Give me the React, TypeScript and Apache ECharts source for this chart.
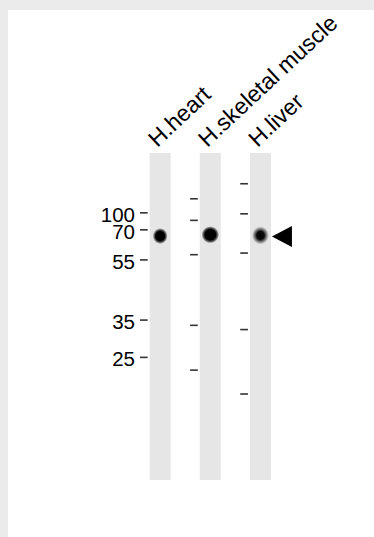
import React, { useEffect, useRef } from 'react';
import * as echarts from 'echarts';

// Lanes (samples) of the western blot
const lanes = ['H.heart', 'H.skeletal muscle', 'H.liver'];
// Molecular-weight marker labels (kDa), shown for lane 1 only
const markerLabels = ['100', '70', '55', '35', '25'];
// Marker migration (% of gel length from the top of the lane)
const lane1Markers = [18.3, 23.5, 32.7, 51.1, 62.5];
const lane2Markers = [14.0, 20.6, 31.1, 52.7, 66.4];
const lane3Markers = [9.4, 18.6, 30.6, 54.0, 73.7];
// Detected band migration per lane
const bandPositions = [25.4, 25.0, 25.2];
// Arrow pointing at the band
const arrowLane = 2;
const arrowPosition = 25.5;

const FONT = '"Liberation Sans", Arial, Helvetica, sans-serif';
const LANE_W = 21;

export default function App() {
  const ref = useRef<HTMLDivElement>(null);
  useEffect(() => {
    if (!ref.current) return;
    const chart = echarts.init(ref.current, null, { renderer: 'svg' });

    const markerRows: number[][] = [];
    [lane1Markers, lane2Markers, lane3Markers].forEach((arr, lane) => {
      arr.forEach((pos, k) => markerRows.push([lane, pos, k]));
    });

    const bandStyles = [
      { rx: 7.5, ry: 8, stops: [[0, 'rgba(0,0,0,1)'], [0.6, 'rgba(0,0,0,1)'], [0.8, 'rgba(0,0,0,0.55)'], [1, 'rgba(0,0,0,0)']] },
      { rx: 8.8, ry: 8.6, stops: [[0, 'rgba(0,0,0,1)'], [0.62, 'rgba(0,0,0,1)'], [0.82, 'rgba(0,0,0,0.55)'], [1, 'rgba(0,0,0,0)']] },
      { rx: 8.5, ry: 9, stops: [[0, 'rgba(0,0,0,1)'], [0.45, 'rgba(0,0,0,0.95)'], [0.72, 'rgba(0,0,0,0.45)'], [1, 'rgba(0,0,0,0)']] },
    ];

    chart.setOption({
      animation: false,
      backgroundColor: '#ebebeb',
      graphic: [
        {
          type: 'rect',
          z: -10,
          shape: { x: 8, y: 10, width: 366, height: 527 },
          style: { fill: '#ffffff' },
        },
      ],
      grid: { left: 135.1, width: 150.4, top: 153, height: 327 },
      xAxis: { type: 'category', data: lanes, show: false },
      yAxis: { type: 'value', min: 0, max: 100, inverse: true, show: false },
      series: [
        {
          type: 'custom',
          name: 'lanes',
          data: lanes.map((_, i) => [i]),
          renderItem: (params: any, api: any) => {
            const i = api.value(0);
            const top = api.coord([i, 0]);
            const bottom = api.coord([i, 100]);
            const left = top[0] - LANE_W / 2;
            return {
              type: 'group',
              children: [
                {
                  type: 'rect',
                  shape: { x: left, y: top[1], width: LANE_W, height: bottom[1] - top[1] },
                  style: { fill: '#e6e6e6' },
                },
                {
                  type: 'text',
                  x: left + 8.5,
                  y: top[1] - 4,
                  rotation: (43 * Math.PI) / 180,
                  style: {
                    text: lanes[i],
                    x: 0,
                    y: 0,
                    fill: '#000',
                    font: `23px ${FONT}`,
                    lineHeight: 19,
                    align: 'left',
                    verticalAlign: 'bottom',
                    textAlign: 'left',
                    textVerticalAlign: 'bottom',
                  },
                },
              ],
            };
          },
        },
        {
          type: 'custom',
          name: 'bands',
          data: bandPositions.map((p, i) => [i, p]),
          renderItem: (params: any, api: any) => {
            const i = api.value(0);
            const c = api.coord([i, api.value(1)]);
            const s = bandStyles[i];
            return {
              type: 'ellipse',
              shape: { cx: c[0], cy: c[1], rx: s.rx, ry: s.ry },
              style: {
                fill: new echarts.graphic.RadialGradient(
                  0.5,
                  0.5,
                  0.5,
                  s.stops.map(([offset, color]) => ({ offset: offset as number, color: color as string }))
                ),
              },
            };
          },
        },
        {
          type: 'custom',
          name: 'markers',
          data: markerRows,
          renderItem: (params: any, api: any) => {
            const lane = api.value(0);
            const c = api.coord([lane, api.value(1)]);
            const k = api.value(2);
            const laneLeft = c[0] - LANE_W / 2;
            const x1 = laneLeft - 9.7;
            const x2 = laneLeft - 2;
            const children: any[] = [
              {
                type: 'line',
                shape: { x1, y1: c[1], x2, y2: c[1] },
                style: { stroke: '#333', lineWidth: 1.6 },
              },
            ];
            if (lane === 0) {
              children.push({
                type: 'text',
                x: x1 - 5,
                y: c[1] + 1.5,
                style: {
                  text: markerLabels[k],
                  x: 0,
                  y: 0,
                  fill: '#000',
                  font: `20.5px ${FONT}`,
                  lineHeight: 15,
                  align: 'right',
                  verticalAlign: 'middle',
                  textAlign: 'right',
                  textVerticalAlign: 'middle',
                },
              });
            }
            return { type: 'group', children };
          },
        },
        {
          type: 'custom',
          name: 'arrow',
          data: [[arrowLane, arrowPosition]],
          renderItem: (params: any, api: any) => {
            const c = api.coord([api.value(0), api.value(1)]);
            const tipX = c[0] + LANE_W / 2 + 1;
            return {
              type: 'polygon',
              shape: {
                points: [
                  [tipX, c[1]],
                  [tipX + 20, c[1] - 10.5],
                  [tipX + 20, c[1] + 10.5],
                ],
              },
              style: { fill: '#000' },
            };
          },
        },
      ],
    });
    return () => chart.dispose();
  }, []);

  return (
    <div
      ref={ref}
      style={{ position: 'fixed', left: 0, top: 0, width: 374, height: 537, background: '#ebebeb' }}
    />
  );
}
